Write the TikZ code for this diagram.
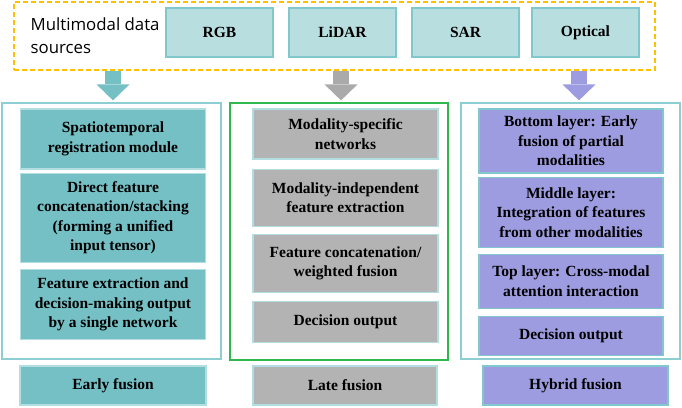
\documentclass[tikz,border=0pt]{standalone}
\usepackage{fontspec}
\setmainfont{Liberation Serif}
\newfontfamily\boxfont{Liberation Serif}
\newfontfamily\srcfont{Open Sans}
\usepackage{tikz}
\usetikzlibrary{arrows.meta, positioning, calc}

\definecolor{srcfill}{RGB}{185,222,224}
\definecolor{tealedge}{RGB}{128,200,205}
\definecolor{earlyfill}{RGB}{117,192,197}
\definecolor{latefill}{RGB}{179,179,179}
\definecolor{hybridfill}{RGB}{158,156,224}
\definecolor{panelteal}{RGB}{140,206,210}
\definecolor{panelgreen}{RGB}{46,184,78}
\definecolor{dashorange}{RGB}{255,192,0}
\definecolor{grayarrow}{RGB}{170,170,170}

\begin{document}
\begin{tikzpicture}[x=1pt, y=-1pt, node distance=3pt, >=Stealth]
        \tikzset{
            boxtext/.style={font=\boxfont\bfseries\fontsize{15.5}{19.5}\selectfont, align=center, inner sep=2pt},
            srcbox/.style={boxtext, draw=tealedge, fill=srcfill, line width=1.2pt, minimum width=107pt, minimum height=49pt},
            earlybox/.style={boxtext, draw=tealedge!60!white, fill=earlyfill, line width=1.2pt, minimum width=185pt},
            latebox/.style={boxtext, draw=tealedge!60!white, fill=latefill, line width=1.2pt, minimum width=185pt},
            hybridbox/.style={boxtext, draw=tealedge, fill=hybridfill, line width=1.2pt, minimum width=184pt},
            panel/.style={draw=panelteal, line width=1.2pt, minimum width=219pt, minimum height=256pt},
            fusearrow/.style={line width=16pt, -{Triangle[width=33pt, length=16pt, line width=0pt]}, shorten >=2pt}
        }
        \useasboundingbox (0,0) rectangle (682,407);

        % data sources
        \node [draw=dashorange, line width=1.6pt, dash pattern=on 5pt off 3pt, minimum width=641pt, minimum height=68pt] (sources) at (334.5,36) {};
        \node [font=\srcfont\fontsize{16.8}{23}\selectfont, align=left, anchor=west, inner sep=0pt] (srclabel) at (30.5,35.5) {Multimodal data\\sources};
        \node [srcbox] (rgb) at (219.5,32.5) {RGB};
        \node [srcbox] (lidar) at (342.5,32.5) {LiDAR};
        \node [srcbox] (sar) at (465.5,32.5) {SAR};
        \node [srcbox] (optical) at (585.5,32.5) {Optical};

        % panels
        \node [panel] (epanel) at (111.5,231) {};
        \node [panel, draw=panelgreen, minimum width=218pt, minimum height=257pt] (lpanel) at (339,231.5) {};
        \node [panel] (hpanel) at (570.5,231) {};

        % early fusion
        \node [earlybox, minimum height=60pt] (e1) at (113,139) {Spatiotemporal\\registration module};
        \node [earlybox, minimum height=89pt, below=3pt of e1] (e2) {Direct feature\\concatenation/stacking\\(forming a unified\\input tensor)};
        \node [earlybox, minimum height=70pt, below=6pt of e2] (e3) {Feature extraction and\\decision-making output\\by a single network};

        % late fusion
        \node [latebox, minimum height=50pt] (l1) at (345.5,134) {Modality-specific\\networks};
        \node [latebox, minimum height=57pt, below=9pt of l1] (l2) {Modality-independent\\feature extraction};
        \node [latebox, minimum height=58pt, below=7pt of l2] (l3) {Feature concatenation/\\weighted fusion};
        \node [latebox, minimum height=41pt, below=8pt of l3] (l4) {Decision output};

        % hybrid fusion
        \node [hybridbox, minimum height=64pt] (h1) at (571,141) {Bottom layer: Early\\fusion of partial\\modalities};
        \node [hybridbox, minimum height=70pt, below=3pt of h1] (h2) {Middle layer:\\Integration of features\\from other modalities};
        \node [hybridbox, minimum height=54pt, below=6pt of h2] (h3) {Top layer: Cross-modal\\attention interaction};
        \node [hybridbox, minimum height=39pt, below=7pt of h3] (h4) {Decision output};

        % fusion names
        \node [earlybox, minimum height=39pt, minimum width=186pt] (early) at (113,385.5) {Early fusion};
        \node [latebox, minimum height=39pt, minimum width=184pt] (late) at (345,385.5) {Late fusion};
        \node [hybridbox, minimum height=39pt, minimum width=185pt] (hybrid) at (575.5,385.5) {Hybrid fusion};

        \draw [fusearrow, earlyfill] (sources.south -| e1) -- (e1 |- epanel.north);
        \draw [fusearrow, grayarrow] ([xshift=-1.5pt]sources.south -| lidar) -- ([xshift=-1.5pt]lidar |- lpanel.north);
        \draw [fusearrow, hybridfill] ([xshift=8pt]sources.south -| h1) -- ([xshift=8pt]h1 |- hpanel.north);
    \end{tikzpicture}
\end{document}
